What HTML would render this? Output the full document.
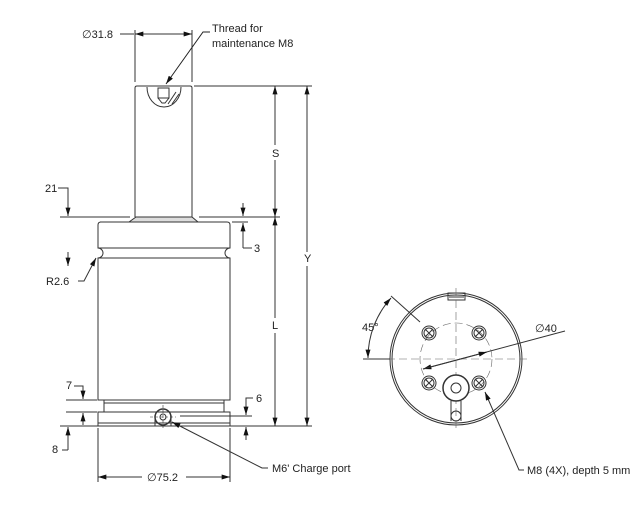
<!DOCTYPE html>
<html><head><style>
html,body{margin:0;padding:0;background:#fff;}
svg{display:block;}
text{font-family:"Liberation Sans",sans-serif;font-size:11px;fill:#222;}
</style></head><body>
<svg width="640" height="512" viewBox="0 0 640 512" xmlns="http://www.w3.org/2000/svg">
<defs>
<marker id="a" viewBox="0 0 10 6" refX="10" refY="3" markerWidth="9" markerHeight="5" orient="auto-start-reverse" markerUnits="userSpaceOnUse"><path d="M0,0L10,3L0,6z" fill="#111"/></marker>
</defs>
<g fill="none" stroke="#333" stroke-width="1">
<!-- rod -->
<path d="M135,88 Q135,86 137,86 L190,86 Q192,86 192,88 L192,217 M135,88 L135,217"/>
<path d="M147,87 A17,20 0 0 0 181,87"/>
<rect x="158" y="88" width="11" height="10"/>
<path d="M158,98 L162,103 L165,103 L169,98 M168,104 L176,92 M172,104 L179,94"/>
<!-- flange -->
<path d="M129,222 L136,217 L192,217 L198,222 Z" fill="#ddd"/>
<!-- body -->
<path d="M100,222 L227,222 Q230,222 230,225 L230,248 A5,5 0 0 0 230,258 L230,400 L98,400 L98,258 A5,5 0 0 0 98,248 L98,225 Q98,222 101,222 Z"/>
<path d="M98,248 L230,248 M98,258 L230,258"/>
<path d="M104,400 L104,412 M224,400 L224,412 M104,403 L224,403"/>
<rect x="98" y="412" width="132" height="14"/>
<path d="M98,423 L230,423"/>
<!-- charge port -->
<circle cx="163" cy="417" r="8" stroke-width="1.5"/>
<circle cx="163" cy="417" r="3"/>
<path d="M155,417 L155,426 M171,417 L171,426"/>
<path d="M163,405 L163,430 M150,417 L176,417" stroke-dasharray="3,2" stroke-width="0.6"/>
<!-- extension lines -->
<path d="M135,82 L135,30 M192,82 L192,30"/>
<path d="M194,86 L312,86 M60,217 L130,217 M199,217 L280,217 M232,222 L248,222 M66,400 L97,400 M66,412 L97,412 M60,426 L312,426 M180,416 L252,416"/>
<path d="M98,428 L98,482 M230,428 L230,482"/>
<!-- dims -->
<path d="M135,34 L192,34" marker-start="url(#a)" marker-end="url(#a)"/>
<path d="M120,34 L134,34"/>
<path d="M275,86 L275,145 M275,160 L275,217" marker-start="url(#a)" marker-end="url(#a)"/>
<path d="M275,217 L275,318 M275,333 L275,426" marker-start="url(#a)" marker-end="url(#a)"/>
<path d="M307,86 L307,252 M307,266 L307,426" marker-start="url(#a)" marker-end="url(#a)"/>
<path d="M142,477 L98,477" marker-end="url(#a)"/><path d="M186,477 L230,477" marker-end="url(#a)"/>
<!-- leaders -->
<path d="M210,32 L203,32 L166,84" marker-end="url(#a)" stroke="#222"/>
<path d="M58,188 L68,188 L68,216" marker-end="url(#a)"/>
<path d="M243,203 L243,216" marker-end="url(#a)"/>
<path d="M243,248 L243,223" marker-end="url(#a)"/>
<path d="M243,248 L252,248"/>
<path d="M68,252 L68,266" marker-end="url(#a)"/>
<path d="M78,281 L84,281 L96,258" marker-end="url(#a)"/>
<path d="M74,386 L83,386 L83,399" marker-end="url(#a)"/>
<path d="M83,425 L83,413" marker-end="url(#a)"/>
<path d="M68,450 L68,427" marker-end="url(#a)"/>
<path d="M62,450 L68,450"/>
<path d="M253,398 L246,398 L246,415" marker-end="url(#a)"/>
<path d="M246,440 L246,427" marker-end="url(#a)"/>
<path d="M268,468 L262,468 L172,422" marker-end="url(#a)"/>
<!-- right view -->
<circle cx="456" cy="359" r="66"/>
<circle cx="456" cy="359" r="64"/>
<rect x="448" y="293" width="17" height="7"/>
<path d="M449,297 L464,297"/>
<g stroke-dasharray="8,4" stroke-width="0.6" stroke="#666">
<path d="M363,359 L527,359 M456,288 L456,432"/>
<circle cx="456" cy="359" r="36"/>
</g>
<g>
<circle cx="429" cy="333" r="7"/><circle cx="429" cy="333" r="5"/><path d="M425,329 L433,337 M433,329 L425,337"/>
<circle cx="479" cy="333" r="7"/><circle cx="479" cy="333" r="5"/><path d="M475,329 L483,337 M483,329 L475,337"/>
<circle cx="429" cy="383" r="7"/><circle cx="429" cy="383" r="5"/><path d="M425,379 L433,387 M433,379 L425,387"/>
<circle cx="479" cy="383" r="7"/><circle cx="479" cy="383" r="5"/><path d="M475,379 L483,387 M483,379 L475,387"/>
</g>
<circle cx="456" cy="388" r="13" stroke-width="1.5" fill="#fff"/>
<circle cx="456" cy="388" r="5"/>
<path d="M451,401 L451,421 M461,401 L461,421"/>
<circle cx="456" cy="416" r="5"/>
<path d="M423,369 L565,331" marker-start="url(#a)"/>
<path d="M423,369 L487,352" marker-end="url(#a)"/>
<path d="M363,359 L390,359"/>
<path d="M391,296 L420,322"/>
<path d="M368,358 A89,89 0 0 1 391,298" marker-start="url(#a)" marker-end="url(#a)"/>
<path d="M524,470 L519,470 L485,392" marker-end="url(#a)"/>
</g>
<text x="82" y="38">∅31.8</text>
<text x="212" y="32">Thread for</text>
<text x="212" y="47">maintenance M8</text>
<text x="272" y="157">S</text>
<text x="304" y="262">Y</text>
<text x="272" y="329">L</text>
<text x="45" y="192">21</text>
<text x="254" y="252">3</text>
<text x="46" y="285">R2.6</text>
<text x="66" y="389">7</text>
<text x="256" y="402">6</text>
<text x="52" y="453">8</text>
<text x="147" y="481">∅75.2</text>
<text x="272" y="472">M6' Charge port</text>
<text x="535" y="332">∅40</text>
<text x="362" y="331">45°</text>
<text x="527" y="474">M8 (4X), depth 5 mm</text>
</svg>
</body></html>
